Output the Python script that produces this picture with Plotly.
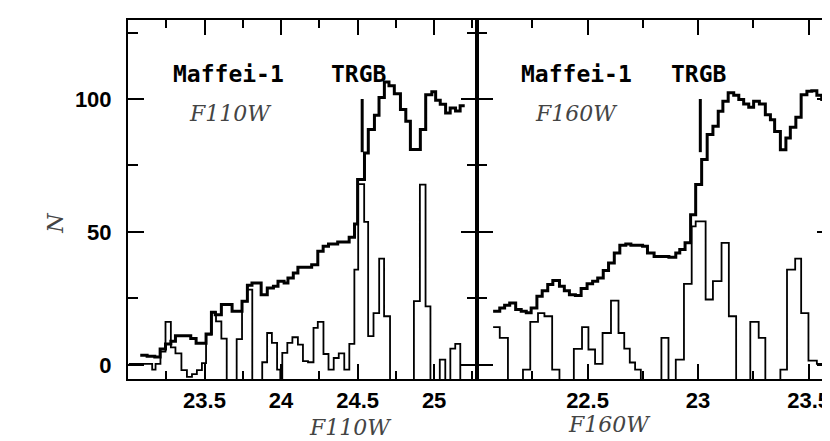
import plotly.graph_objects as go

# F110W panel: smoothed luminosity function (thick) and edge-detection response (thin)
f110w_lf_edges = [23.08, 23.125, 23.175, 23.21, 23.245, 23.28, 23.31, 23.41, 23.445, 23.51,
                  23.545, 23.57, 23.61, 23.68, 23.745, 23.78, 23.81, 23.87, 23.91, 23.95,
                  23.98, 24.02, 24.045, 24.08, 24.11, 24.2, 24.24, 24.275, 24.31, 24.37,
                  24.445, 24.48, 24.5, 24.545, 24.57, 24.61, 24.64, 24.675, 24.705, 24.74,
                  24.78, 24.815, 24.845, 24.91, 24.945, 24.985, 25.01, 25.04, 25.075, 25.105,
                  25.14, 25.17, 25.2]
f110w_lf = [3.6, 3.3, 3.0, 6.0, 7.9, 8.9, 11.0, 9.9, 8.1, 11.6,
            19.8, 18.9, 22.7, 20.2, 23.9, 30.0, 30.8, 26.4, 28.9, 29.6,
            31.5, 30.8, 32.7, 34.6, 36.7, 37.7, 42.7, 44.6, 45.5, 46.2,
            48.0, 53.0, 69.7, 79.7, 88.5, 93.9, 100.6, 106.4, 105.0, 102.0,
            96.0, 91.6, 81.0, 88.5, 101.6, 102.7, 99.5, 98.0, 94.7, 96.6,
            95.5, 97.5]

f110w_edge_bins = [23.006, 23.158, 23.18, 23.212, 23.245, 23.28, 23.31, 23.349, 23.385, 23.418,
                   23.45, 23.483, 23.51, 23.545, 23.575, 23.61, 23.645, 23.71, 23.745, 23.777,
                   23.812, 23.877, 23.909, 23.94, 23.974, 23.995, 24.008, 24.041, 24.074, 24.11,
                   24.143, 24.176, 24.212, 24.24, 24.277, 24.31, 24.344, 24.377, 24.413, 24.446,
                   24.479, 24.504, 24.543, 24.569, 24.604, 24.641, 24.673, 24.712, 24.868, 24.907,
                   24.944, 24.976, 25.037, 25.073, 25.106, 25.138, 25.171, 25.203]
f110w_edge = [0.4, -1.8, 0.4, 5.0, 16.2, 6.6, 4.3, -2.0, -4.5, -3.5,
              -2.0, 0.7, 11.4, 19.8, 16.4, 9.9, -8, 9.7, 23.9, 28.3,
              -8, 1.0, 12.0, 8.3, -1.8, -8, 4.5, 8.3, 10.4, 7.6,
              1.4, 1.0, 13.9, 16.2, 4.1, -1.8, 2.6, 4.3, -1.8, 7.9,
              35.8, 68.0, 53.8, 10.8, 19.5, 40.0, 18.3, -8, 24.0, 67.8,
              22.0, -8, 2.0, -8, 6.1, 7.9, -8]

# F160W panel
f160w_lf_edges = [22.073, 22.103, 22.125, 22.148, 22.175, 22.2, 22.223, 22.245, 22.271, 22.295,
                  22.32, 22.343, 22.373, 22.395, 22.418, 22.445, 22.471, 22.498, 22.523, 22.546,
                  22.571, 22.595, 22.621, 22.646, 22.673, 22.696, 22.726, 22.749, 22.771, 22.801,
                  22.839, 22.868, 22.899, 22.917, 22.941, 22.966, 22.989, 23.016, 23.041, 23.067,
                  23.091, 23.112, 23.136, 23.161, 23.184, 23.206, 23.229, 23.251, 23.277, 23.304,
                  23.327, 23.346, 23.372, 23.397, 23.417, 23.442, 23.466, 23.492, 23.514, 23.537,
                  23.559, 23.582, 23.61]
f160w_lf = [20.2, 21.4, 22.4, 23.3, 20.8, 20.2, 19.6, 21.4, 25.8, 27.9,
            30.2, 31.7, 29.6, 27.9, 26.4, 26.1, 28.7, 30.5, 31.5, 32.7,
            35.5, 38.3, 42.1, 45.0, 45.5, 45.0, 45.0, 44.6, 42.1, 40.8,
            40.8, 40.5, 42.1, 43.4, 45.9, 56.5, 67.8, 77.2, 86.6, 89.7,
            95.4, 99.1, 102.3, 101.4, 99.8, 98.1, 96.9, 99.1, 98.1, 94.1,
            92.2, 87.8, 80.9, 85.3, 89.4, 93.1, 101.6, 102.9, 103.1, 101.4,
            99.8, 96.0]

f160w_edge_bins = [22.073, 22.103, 22.14, 22.208, 22.241, 22.276, 22.305, 22.34, 22.373, 22.438,
                   22.475, 22.504, 22.534, 22.568, 22.606, 22.64, 22.666, 22.691, 22.715, 22.741,
                   22.834, 22.866, 22.899, 22.936, 22.971, 22.989, 23.034, 23.067, 23.106, 23.139,
                   23.172, 23.236, 23.274, 23.304, 23.372, 23.402, 23.439, 23.466, 23.499, 23.537,
                   23.61]
f160w_edge = [14.2, 10.2, -8, -1.8, 16.2, 19.5, 18.3, -1.8, -8, 6.0,
              14.2, 5.8, 0.4, 12.0, 24.2, 12.0, 6.1, 0.9, -1.8, -8,
              10.2, -8, 2.0, 30.5, 52.1, 54.0, 24.6, 31.5, 45.9, 18.3,
              -8, 16.2, 10.2, -8, -1.8, 35.8, 40.0, 19.5, 1.6, 0.4]

trgb_f110w = 24.53
trgb_f160w = 23.01
trgb_mark = [80, 100]

f110w_ticks = [23.5, 24, 24.5, 25]
f110w_minor = [23.25, 23.75, 24.25, 24.75, 25.25]
f160w_ticks = [22.5, 23, 23.5]
f160w_minor = [22.25, 22.75, 23.25]


def steps(edges, counts):
    return edges, list(counts) + [counts[-1]]


fig = go.Figure()

for edges, counts, xa, w in [
    (f110w_edge_bins, f110w_edge, "x", 1.8),
    (f110w_lf_edges, f110w_lf, "x", 3),
    (f160w_edge_bins, f160w_edge, "x2", 1.8),
    (f160w_lf_edges, f160w_lf, "x2", 3),
]:
    x, y = steps(edges, counts)
    fig.add_trace(go.Scatter(x=x, y=y, mode="lines", line=dict(color="black", width=w, shape="hv"),
                             xaxis=xa, yaxis="y" if xa == "x" else "y2", showlegend=False))

fig.add_trace(go.Scatter(x=[trgb_f110w, trgb_f110w], y=trgb_mark, mode="lines",
                         line=dict(color="black", width=3), showlegend=False))
fig.add_trace(go.Scatter(x=[trgb_f160w, trgb_f160w], y=trgb_mark, mode="lines",
                         line=dict(color="black", width=3), xaxis="x2", yaxis="y2", showlegend=False))

tickfont = dict(family="Liberation Sans", size=22, color="black", weight="bold")
label_font = dict(family="DejaVu Sans Mono", size=23, color="black", weight="bold")
band_font = dict(family="DejaVu Serif", size=22, color="#444444", style="italic")


def xaxis_style(ticks, minor):
    return dict(ticks="inside", ticklen=15, tickwidth=2, tickcolor="black",
                showline=True, linewidth=2, linecolor="black", mirror="ticks",
                showgrid=False, zeroline=False, tickmode="array", tickvals=ticks,
                minor=dict(ticks="inside", ticklen=8, tickwidth=2, tickcolor="black",
                           tickmode="array", tickvals=minor),
                tickfont=tickfont, ticklabelstandoff=1)


ycommon = dict(ticks="inside", ticklen=16, tickwidth=2, tickcolor="black",
               showline=True, linewidth=2, linecolor="black", mirror="ticks",
               showgrid=False, zeroline=False, dtick=50, tick0=0, range=[-5.3, 129.7],
               minor=dict(ticks="inside", ticklen=10, tickwidth=2, tickcolor="black", dtick=25, tick0=0),
               tickfont=tickfont)

split = 0.495
fig.update_layout(
    width=830, height=441,
    margin=dict(l=120, r=3, t=12, b=70),
    plot_bgcolor="white", paper_bgcolor="white",
    xaxis=dict(domain=[0, split], range=[23.0, 25.28], anchor="y", **xaxis_style(f110w_ticks, f110w_minor)),
    xaxis2=dict(domain=[split, 1], range=[22.0, 23.61], anchor="y2", **xaxis_style(f160w_ticks, f160w_minor)),
    yaxis=dict(anchor="x", ticklabelstandoff=10, **ycommon),
    yaxis2=dict(anchor="x2", matches="y", showticklabels=False, **ycommon),
    annotations=[
        dict(x=23.656, y=109.4, xref="x", yref="y", text="Maffei-1", showarrow=False, font=label_font),
        dict(x=24.51, y=109.4, xref="x", yref="y", text="TRGB", showarrow=False, font=label_font),
        dict(x=23.672, y=94.4, xref="x", yref="y", text="F110W", showarrow=False, font=band_font),
        dict(x=22.452, y=109.4, xref="x2", yref="y2", text="Maffei-1", showarrow=False, font=label_font),
        dict(x=23.002, y=109.4, xref="x2", yref="y2", text="TRGB", showarrow=False, font=label_font),
        dict(x=22.448, y=94.4, xref="x2", yref="y2", text="F160W", showarrow=False, font=band_font),
        dict(x=(300 - 120) / 707, y=(371 - 434) / 359, xref="paper", yref="paper", text="F110W",
             showarrow=False, font=band_font),
        dict(x=(646 - 120) / 707, y=(371 - 431) / 359, xref="paper", yref="paper", text="F160W",
             showarrow=False, font=band_font),
        dict(x=(32 - 120) / 707, y=(371 - 215) / 359, xref="paper", yref="paper", text="N",
             textangle=-90, showarrow=False, font=band_font),
    ],
)

fig.write_html("out.html")
